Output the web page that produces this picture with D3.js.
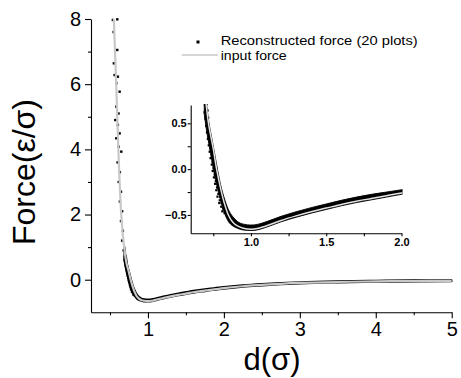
<!DOCTYPE html>
<html><head><meta charset="utf-8">
<script src="https://cdn.jsdelivr.net/npm/d3@7"></script>
<style>
html,body{margin:0;padding:0;background:#fff;}
svg text{font-family:"Liberation Sans",Arial,sans-serif;}
</style></head>
<body><svg id="c" width="461" height="378"></svg>
<script>
// ---- data ----
const inputD = [0.551,0.566,0.582,0.596,0.61,0.627,0.648,0.672,0.69,0.70,0.71,0.72,0.735,0.75,0.77,0.80,0.825,0.85,0.88,0.91,0.95,1.0,1.05,1.1,1.2,1.3,1.4,1.5,1.6,1.7,1.8,1.9,2.0,2.25,2.5,2.75,3.0,3.5,4.0,4.5,5.0];
const inputF = [8.0,7.0,6.0,5.0,4.0,3.0,2.0,1.3,0.95,0.75,0.6,0.48,0.35,0.22,0.02,-0.22,-0.38,-0.5,-0.58,-0.62,-0.645,-0.655,-0.645,-0.62,-0.56,-0.51,-0.465,-0.425,-0.385,-0.35,-0.32,-0.29,-0.26,-0.2,-0.16,-0.125,-0.1,-0.07,-0.05,-0.04,-0.035];

const reconD  = [0.69,0.70,0.72,0.74,0.76,0.78,0.80,0.82,0.85,0.88,0.91,0.95,1.0,1.05,1.1,1.2,1.3,1.4,1.5,1.6,1.7,1.8,1.9,2.0,2.25,2.5,2.75,3.0,3.5,4.0,4.5,5.0];
const reconHi = [1.0,0.8,0.52,0.34,0.16,-0.02,-0.18,-0.30,-0.44,-0.52,-0.57,-0.60,-0.61,-0.60,-0.575,-0.515,-0.465,-0.42,-0.38,-0.34,-0.305,-0.275,-0.25,-0.225,-0.17,-0.13,-0.1,-0.075,-0.045,-0.03,-0.02,-0.015];
const reconLo = [0.6,0.48,0.28,0.10,-0.08,-0.22,-0.35,-0.46,-0.57,-0.62,-0.645,-0.665,-0.67,-0.66,-0.635,-0.575,-0.525,-0.48,-0.44,-0.40,-0.365,-0.335,-0.305,-0.275,-0.215,-0.175,-0.14,-0.115,-0.085,-0.065,-0.055,-0.05];

// scattered reconstructed points on the steep (repulsive) branch
const scatD = [0.538,0.596,0.548,0.596,0.551,0.561,0.604,0.583,0.627,0.583,0.613,0.57,0.604,0.627,0.583,0.613,0.649,0.60,0.63,0.615,0.645,0.63,0.66,0.645,0.67,0.66,0.68,
  0.695,0.705,0.700,0.712,0.692,0.705,0.716,0.698,0.71,0.72,0.703,0.715,0.726,0.708,0.72,0.732,0.714,0.727,0.738,0.72,0.733,0.745,0.726,0.74,0.752,0.732,0.746,0.759,0.74,0.752,0.765,0.746,0.76,0.772,0.754,0.767,0.78,0.762,0.775,0.788,0.77,0.784,0.797,0.778,0.793,0.806,0.79,0.803,0.816,0.81,0.825];
const scatF = [7.97,7.99,7.6,7.05,6.64,6.28,6.23,6.03,5.77,5.31,5.1,4.9,4.75,4.49,4.34,4.08,3.93,3.6,3.3,3.0,2.7,2.4,2.1,1.8,1.5,1.2,0.9,
  0.70,0.71,0.66,0.64,0.62,0.58,0.56,0.55,0.51,0.47,0.47,0.43,0.40,0.40,0.36,0.33,0.33,0.29,0.26,0.26,0.22,0.19,0.19,0.15,0.12,0.12,0.08,0.05,0.05,0.01,-0.02,-0.02,-0.06,-0.09,-0.09,-0.13,-0.16,-0.16,-0.2,-0.23,-0.23,-0.27,-0.3,-0.3,-0.34,-0.37,-0.37,-0.41,-0.43,-0.46,-0.48];

const mainXTicks = [1,2,3,4,5];
const mainXMinor = [0.5,1.5,2.5,3.5,4.5];
const mainYTicks = [0,2,4,6,8];
const mainYMinor = [1,3,5,7];
const insetXTicks = [1.0,1.5,2.0];
const insetXMinor = [0.75,1.25,1.75];
const insetYTicks = [-0.5,0.0,0.5];
const insetYMinor = [-0.25,0.25];

const legendLabels = ["Reconstructed force (20 plots)","input force"];
const xTitle = "d(σ)";
const yTitle = "Force(ε/σ)";

// ---- drawing ----
const svg = d3.select("#c");
const inputPts = inputD.map((d,i)=>[d,inputF[i]]);
const reconPts = reconD.map((d,i)=>({d, hi:reconHi[i], lo:reconLo[i]}));
const scatPts = scatD.map((d,i)=>[d,scatF[i]]);

function panel(opts){
  const {x,y,id,sq,bandStroke,lineW,lineColor} = opts;
  const [x0,x1]=x.range(), [y0,y1]=y.range();
  svg.append("clipPath").attr("id",id).append("rect")
    .attr("x",x0).attr("y",y1-1).attr("width",x1-x0+1).attr("height",y0-y1+1);
  const g = svg.append("g").attr("clip-path",`url(#${id})`);
  g.append("g").selectAll("rect").data(scatPts).join("rect")
    .attr("x",p=>x(p[0])-sq/2).attr("y",p=>y(p[1])-sq/2)
    .attr("width",sq).attr("height",sq).attr("fill","#000");
  g.append("path").datum(reconPts)
    .attr("d",d3.area().x(p=>x(p.d)).y0(p=>y(p.lo)).y1(p=>y(p.hi)).curve(d3.curveMonotoneX))
    .attr("fill","#000").attr("stroke","#000").attr("stroke-width",bandStroke).attr("stroke-linejoin","round");
  g.append("path").datum(inputPts)
    .attr("d",d3.line().x(p=>x(p[0])).y(p=>y(p[1])).curve(d3.curveCatmullRom))
    .attr("fill","none").attr("stroke",lineColor).attr("stroke-width",lineW);
}

function axes(opts){
  const {x,y,xt,xm,yt,ym,fmt,font,weight,maj,min,xdy,ydx} = opts;
  const [x0]=x.range(), [y0]=y.range();
  const ax = svg.append("g").attr("transform",`translate(0,${y0})`)
    .call(d3.axisBottom(x).tickValues(xt).tickSize(maj).tickPadding(xdy).tickFormat(fmt).tickSizeOuter(0));
  svg.append("g").attr("transform",`translate(0,${y0})`)
    .call(d3.axisBottom(x).tickValues(xm).tickSize(min).tickFormat("").tickSizeOuter(0))
    .select(".domain").remove();
  const ay = svg.append("g").attr("transform",`translate(${x0},0)`)
    .call(d3.axisLeft(y).tickValues(yt).tickSize(maj).tickPadding(ydx).tickFormat(fmt).tickSizeOuter(0));
  svg.append("g").attr("transform",`translate(${x0},0)`)
    .call(d3.axisLeft(y).tickValues(ym).tickSize(min).tickFormat("").tickSizeOuter(0))
    .select(".domain").remove();
  [ax,ay].forEach(a=>a.selectAll("text")
    .attr("font-size",font).attr("font-weight",weight)
    .attr("font-family","Liberation Sans, Arial, sans-serif").attr("fill","#000"));
  svg.selectAll(".domain").attr("stroke","#000").attr("stroke-width",1.1);
  svg.selectAll(".tick line").attr("stroke","#000").attr("stroke-width",1.1);
}

// main plot
const X = d3.scaleLinear().domain([0.25,5]).range([91,451.7]);
const Y = d3.scaleLinear().domain([-1,8]).range([312.3,19]);
panel({x:X,y:Y,id:"cm",sq:2.4,bandStroke:2,lineW:2.2,lineColor:"#c8c8c8"});
axes({x:X,y:Y,xt:mainXTicks,xm:mainXMinor,yt:mainYTicks,ym:mainYMinor,fmt:d3.format("d"),font:"20px",weight:"normal",maj:6,min:3,xdy:4,ydx:4});

// inset
const x2 = d3.scaleLinear().domain([0.6,2.0]).range([190.7,401.5]);
const y2 = d3.scaleLinear().domain([-0.7,0.7]).range([233.3,105]);
panel({x:x2,y:y2,id:"ci",sq:2.2,bandStroke:0.9,lineW:1.5,lineColor:"#e4e4e4"});
axes({x:x2,y:y2,xt:insetXTicks,xm:insetXMinor,yt:insetYTicks,ym:insetYMinor,fmt:d3.format(".1f"),font:"11px",weight:"bold",maj:3,min:3,xdy:2,ydx:1});

// titles
svg.append("text").attr("transform","translate(35,172) rotate(-90)")
  .attr("text-anchor","middle").attr("font-size",32).text(yTitle);
svg.append("text").attr("x",272).attr("y",370)
  .attr("text-anchor","middle").attr("font-size",31).text(xTitle);

// legend
svg.append("rect").attr("x",196.5).attr("y",40.5).attr("width",3).attr("height",3).attr("fill","#000");
svg.append("line").attr("x1",181.7).attr("x2",218).attr("y1",55).attr("y2",55)
  .attr("stroke","#c8c8c8").attr("stroke-width",1.5);
svg.append("text").attr("x",220.7).attr("y",45).attr("font-size",13)
  .attr("textLength",197).attr("lengthAdjust","spacingAndGlyphs").text(legendLabels[0]);
svg.append("text").attr("x",220.7).attr("y",60).attr("font-size",13)
  .attr("textLength",66).attr("lengthAdjust","spacingAndGlyphs").text(legendLabels[1]);
</script></body></html>
